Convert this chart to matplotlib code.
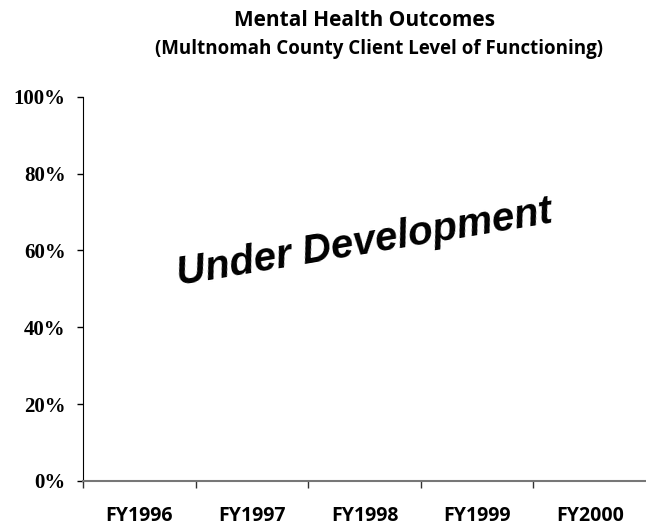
import matplotlib
matplotlib.use('Agg')
import matplotlib.pyplot as plt

# categories on the x axis, no values reported yet
years = ['FY1996', 'FY1997', 'FY1998', 'FY1999', 'FY2000']
pct_ticks = [0, 20, 40, 60, 80, 100]
pct_labels = ['0%', '20%', '40%', '60%', '80%', '100%']

fig = plt.figure(figsize=(6.46, 5.27), dpi=100)
ax = fig.add_axes([0.1285, 0.0873, 0.8715, 0.729])

ax.set_xlim(0, len(years))
ax.set_ylim(0, 100)

# category boundaries carry the tick marks, labels sit in between
ax.set_xticks(range(len(years)))
ax.set_xticklabels([])
ax.set_xticks([i + 0.5 for i in range(len(years))], minor=True)
ax.set_xticklabels(years, minor=True, fontsize=14, fontweight='bold', family='Open Sans')
ax.tick_params(axis='x', which='minor', length=0, pad=18)
ax.tick_params(axis='x', which='major', length=5, width=1, color='#333333')

ax.set_yticks(pct_ticks)
ax.set_yticklabels(pct_labels, fontsize=15, fontweight='bold', family='Liberation Serif')
ax.tick_params(axis='y', length=4.5, width=1, pad=8)

for s in ['top', 'right']:
    ax.spines[s].set_visible(False)
ax.spines['bottom'].set_color('#777777')
ax.spines['bottom'].set_linewidth(1.5)

ax.text(0.5, 0.62, 'Under Development', transform=ax.transAxes,
        ha='center', va='center', rotation=9.5,
        fontsize=29, fontweight='bold', fontstyle='italic',
        family='Liberation Sans')

fig.text(0.564, 0.962, 'Mental Health Outcomes', ha='center', va='center',
         fontsize=15, fontweight='bold', family='Open Sans')
fig.text(0.587, 0.907, '(Multnomah County Client Level of Functioning)', ha='center',
         va='center', fontsize=13.5, fontweight='bold', family='Open Sans')

fig.savefig('out.png', dpi=100)
